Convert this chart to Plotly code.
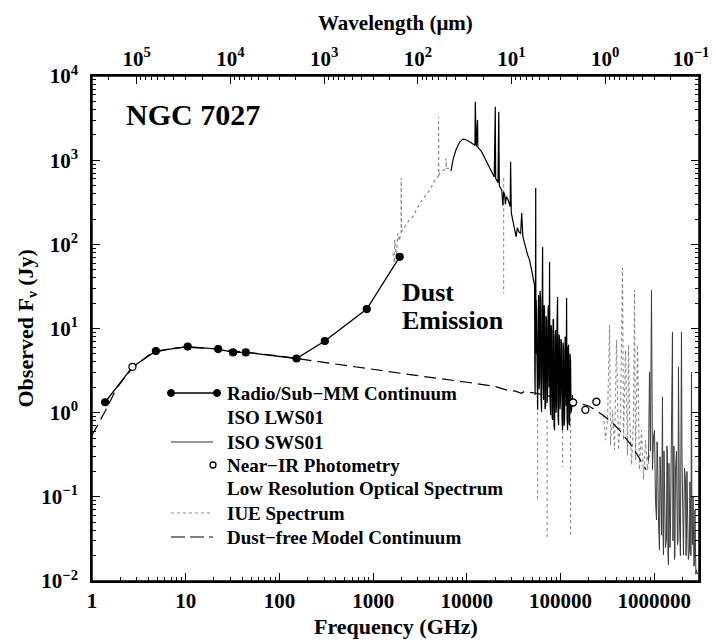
import math
import plotly.graph_objects as go

# ---------------- data (frequency in GHz, flux density in Jy) ----------------
radio_nu = [1.38, 2.7, 4.8, 10.5, 22.2, 32, 43.8, 152, 305, 855, 1920]
radio_f = [1.33, 3.5, 5.4, 6.1, 5.7, 5.2, 5.2, 4.4, 7.1, 17.0, 71.0]
radio_open = [False, True, False, False, False, False, False, False, False, False, False]

model_nu = [1, 1.4, 1.83, 2.7, 4, 5, 7, 10, 20, 30, 50, 100, 150, 300, 1000, 3000,
            10000, 20000, 27000, 33000, 38000, 41000, 55000, 80000, 134000, 200000,
            282000, 360000, 426000, 588000, 818000]
model_f = [0.54, 1.07, 1.95, 3.4, 4.8, 5.3, 5.8, 6.0, 5.75, 5.5, 5.15, 4.7, 4.4, 3.95,
           3.3, 2.75, 2.3, 2.05, 1.85, 1.80, 1.70, 1.78, 1.70, 1.55, 1.35, 1.2,
           0.94, 0.75, 0.62, 0.39, 0.21]

lws_nu = [1630, 1680, 1700, 1760, 1840, 1900, 1990, 1990, 2010, 2160, 2400, 2650, 2900,
          3140, 3500, 4010, 4500, 4980, 4980, 5020, 5130, 5600, 6000, 6000, 6050, 6770]
lws_f = [78, 60, 113, 70, 135, 110, 140, 610, 140, 160, 190, 213, 260,
         305, 360, 442, 560, 650, 3290, 660, 700, 760, 800, 1050, 800, 800]

sws_nu = [6770, 7100, 7600, 8400, 9100, 9600, 10500, 11500, 12200, 12300, 12400, 12600,
          13000, 13100, 14300, 15300, 16200, 17200, 18200, 19600, 20100, 20300, 21500,
          21900, 22200, 22400, 23600, 24200, 24700, 25300, 25800, 26400, 27600, 29000,
          29300, 29500, 29800, 31000, 32300, 33600, 34600, 36000, 37500, 38500, 39600,
          41000, 42300, 44500, 46700, 48600, 50000, 51300,
          52800, 53100, 53500, 53900, 54300, 54600, 55000, 55900, 56900, 57600, 58300,
          59000, 59700, 60400, 61200, 61900, 62700, 63500, 64300, 65100, 65900, 66700,
          67500, 68300, 69200, 70000, 70900, 71800, 72700, 73600, 74500, 75400, 76300,
          77200, 78200, 79200, 80200, 81200, 82200, 83200, 84200, 85200, 86300, 87400,
          88500, 89500, 90600, 91700, 92900, 94000, 95200, 96400, 97600, 98800, 100000,
          101200, 102500, 103800, 105100, 106400, 107700, 109000, 110400, 111700,
          113100, 114500, 115900, 117300, 118800, 120200, 121700, 123200, 124700,
          126200, 127800, 129400, 131000, 134200]
sws_f = [740, 1000, 1300, 1650, 1780, 1760, 1680, 1560, 1500, 4950, 1490, 1440,
         3000, 1420, 1270, 1100, 960, 850, 764, 630, 4300, 610, 540,
         3750, 500, 485, 440, 290, 420, 390, 300, 370, 336, 280,
         960, 260, 236, 190, 148, 123, 158, 140, 134, 236, 123,
         105, 93, 75, 65, 54, 45, 37.7,
         32.9, 3.0, 1.62, 18, 467, 5.0, 21.8, 2.2, 1.08, 14, 25,
         1.9, 2.44, 28, 21.8, 1.5, 1.02, 15, 93, 2.5, 1.41, 19,
         16.6, 1.1, 1.23, 14, 12.6, 1.3, 1.86, 17, 19, 2.0, 61.7,
         1.5, 0.94, 11, 9.6, 0.9, 0.82, 13, 12.6, 0.7, 0.62, 8,
         9.6, 1.0, 1.23, 12, 23.7, 0.9, 0.71, 8.5, 7.3, 1.1, 1.62,
         7.5, 6.37, 0.8, 0.62, 6.8, 5.55, 0.7, 0.82, 8,
         7.3, 1.2, 23.0, 0.9, 0.62, 6.0, 6.37, 0.75, 0.71,
         5.0, 4.23, 1.0, 1.08, 1.62]

# faint dotted drop-outs in the SWS range (None separates the spikes)
swsd_nu = [24700, 24700, None, 56900, 56900, None, 71800, 71800, None,
           105100, 105100, None, 127800, 127800]
swsd_f = [610, 26, None, 1.41, 0.092, None, 0.82, 0.033, None,
          1.41, 0.226, None, 1.41, 0.033]

nir_nu = [136000, 184000, 241000]
nir_f = [1.32, 1.08, 1.35]

opt_nu = [287300, 301800, 317000, 333000, 341300, 358400, 376500, 395400, 415300,
          436300, 458200, 469600, 493200, 518000, 531000, 544000, 571400, 600200,
          615100, 630400, 662200, 695500, 730500, 767300, 805900, 846400, 889000]
opt_f = [0.94, 0.47, 0.82, 11.0, 0.41, 1.08, 0.36, 7.3, 0.36,
         0.94, 52.4, 0.47, 5.55, 0.31, 6.4, 1.08, 0.24, 0.82,
         28.7, 0.27, 6.4, 0.21, 0.62, 0.16, 0.47, 0.21, 0.31]

iue_nu = [850000, 867500, 889000, 910000, 933700, 945000, 956900, 980000, 1.005e6,
          1.030e6, 1.056e6, 1.070e6, 1.082e6, 1.110e6, 1.136e6, 1.150e6, 1.165e6,
          1.195e6, 1.223e6, 1.238e6, 1.253e6, 1.270e6, 1.285e6, 1.315e6, 1.349e6,
          1.365e6, 1.383e6, 1.400e6, 1.417e6, 1.435e6, 1.452e6, 1.470e6, 1.488e6,
          1.525e6, 1.563e6, 1.582e6, 1.602e6, 1.620e6, 1.642e6, 1.660e6, 1.683e6,
          1.725e6, 1.767e6, 1.790e6, 1.811e6, 1.835e6, 1.857e6, 1.900e6, 1.950e6,
          1.975e6, 1.998e6, 2.020e6, 2.048e6, 2.100e6, 2.151e6, 2.180e6, 2.204e6,
          2.230e6, 2.259e6, 2.310e6, 2.373e6, 2.400e6, 2.432e6, 2.460e6, 2.493e6,
          2.520e6, 2.554e6, 2.590e6, 2.618e6, 2.650e6, 2.684e6, 2.715e6, 2.749e6,
          2.780e6, 2.818e6, 2.900e6]
iue_f = [0.30, 0.27, 3.04, 0.35, 28.7, 0.4, 0.21, 0.5, 0.62,
         0.09, 0.053, 0.45, 0.36, 0.05, 0.0234, 0.30, 0.21,
         0.035, 1.54, 0.04, 0.0204, 0.35, 0.159, 0.025, 0.031,
         0.40, 0.27, 0.02, 0.0155, 0.25, 0.121, 0.025, 0.04,
         0.30, 9.1, 0.03, 0.092, 0.40, 0.018, 0.02, 0.208,
         0.35, 0.027, 0.03, 3.5, 0.25, 0.053, 0.02, 9.1,
         0.3, 0.121, 0.025, 0.0204, 0.22, 0.159, 0.02, 0.031,
         0.20, 0.092, 0.018, 0.0234, 0.15, 0.07, 0.02, 3.04,
         0.05, 0.027, 0.10, 0.053, 0.015, 0.018, 0.07, 0.04,
         0.012, 0.0135, 0.012]

freq_ticks = [1, 10, 100, 1000, 10000, 100000, 1000000]
freq_labels = ["1", "10", "100", "1000", "10000", "100000", "1000000"]
wl_ticks_um = [1e5, 1e4, 1e3, 1e2, 1e1, 1, 0.1]
wl_labels = ["10<sup>5</sup>", "10<sup>4</sup>", "10<sup>3</sup>", "10<sup>2</sup>",
             "10<sup>1</sup>", "10<sup>0</sup>", "10<sup>−1</sup>\u00a0\u00a0\u00a0"]
flux_ticks = [1e-2, 1e-1, 1, 10, 100, 1000, 10000]
flux_labels = ["10<sup>−2</sup>", "10<sup>−1</sup>", "10<sup>0</sup>", "10<sup>1</sup>",
               "10<sup>2</sup>", "10<sup>3</sup>", "10<sup>4</sup>"]

legend_items = ["Radio/Sub−MM Continuum", "ISO LWS01", "ISO SWS01", "Near−IR Photometry",
                "Low Resolution Optical Spectrum", "IUE Spectrum", "Dust−free Model Continuum"]

C_UM_GHZ = 2.99792458e5  # lambda[um] * nu[GHz]

# ---------------- figure ----------------
FONT = "Liberation Serif"
PAGE_W, PAGE_H = 716, 642
BODY = 8                      # default page margin around the plot div
W, H = PAGE_W - BODY, PAGE_H - BODY
L, R, T, B = 92, 699, 76, 581  # plot-area edges in window pixels
XMAX = 3.0e6


def px(x):
    return (x - L) / (R - L)


def py(y):
    return (B - y) / (B - T)


fig = go.Figure()

fig.add_trace(go.Scatter(x=lws_nu, y=lws_f, mode="lines",
                         line=dict(color="#8a8a8a", width=1.2, dash="dot"), hoverinfo="skip"))
fig.add_trace(go.Scatter(x=opt_nu, y=opt_f, mode="lines",
                         line=dict(color="#8a8a8a", width=1.1, dash="dot"), hoverinfo="skip"))
fig.add_trace(go.Scatter(x=swsd_nu, y=swsd_f, mode="lines",
                         line=dict(color="#8a8a8a", width=1.1, dash="dot"), hoverinfo="skip"))
fig.add_trace(go.Scatter(x=iue_nu, y=iue_f, mode="lines",
                         line=dict(color="#3a3a3a", width=1.0), hoverinfo="skip"))
fig.add_trace(go.Scatter(x=model_nu, y=model_f, mode="lines",
                         line=dict(color="black", width=1.2, dash="12px,6px"), hoverinfo="skip"))
fig.add_trace(go.Scatter(x=sws_nu, y=sws_f, mode="lines",
                         line=dict(color="black", width=1.2), hoverinfo="skip"))
fig.add_trace(go.Scatter(x=radio_nu, y=radio_f, mode="lines+markers",
                         line=dict(color="black", width=1.3),
                         marker=dict(size=7, color=["white" if o else "black" for o in radio_open],
                                     line=dict(color="black", width=1.2)),
                         hoverinfo="skip"))
fig.add_trace(go.Scatter(x=nir_nu, y=nir_f, mode="markers",
                         marker=dict(size=7, color="white", line=dict(color="black", width=1.4)),
                         hoverinfo="skip"))
# invisible anchor for the wavelength axis and the right-hand flux axis
fig.add_trace(go.Scatter(x=[10], y=[1e-6], xaxis="x2", yaxis="y2", mode="markers",
                         marker=dict(opacity=0), hoverinfo="skip"))

minor_freq = [m * 10 ** k for k in range(0, 7) for m in range(2, 10) if m * 10 ** k < XMAX]
minor_wl = [C_UM_GHZ / (m * 10 ** k) for k in range(-2, 6) for m in range(2, 10)]
minor_wl = [v for v in minor_wl if 1 < v < XMAX]
minor_flux = [m * 10.0 ** k for k in range(-2, 4) for m in range(2, 10)]

tick_font = dict(family=FONT, size=21, color="black", weight="bold")
axis_common = dict(type="log", showgrid=False, zeroline=False, showline=True,
                   linecolor="black", linewidth=1.5, ticks="inside", ticklen=8,
                   tickwidth=1, tickcolor="black", tickfont=tick_font,
                   ticklabeloverflow="allow")
minor_common = dict(tickmode="array", ticks="inside", ticklen=4, tickcolor="black",
                    tickwidth=1, showgrid=False)

fig.update_layout(
    width=W, height=H,
    margin=dict(l=L - BODY, r=PAGE_W - R, t=T - BODY, b=PAGE_H - B, pad=0, autoexpand=False),
    paper_bgcolor="white", plot_bgcolor="white",
    showlegend=False,
    font=dict(family=FONT, color="black"),
    xaxis=dict(**axis_common, range=[0, math.log10(XMAX)], tickmode="array",
               tickvals=freq_ticks, ticktext=freq_labels, anchor="y",
               minor=dict(**minor_common, tickvals=minor_freq)),
    xaxis2=dict(**axis_common, range=[0, math.log10(XMAX)], overlaying="x", side="top",
                anchor="y", tickmode="array",
                tickvals=[C_UM_GHZ / w for w in wl_ticks_um], ticktext=wl_labels,
                minor=dict(**minor_common, tickvals=minor_wl)),
    yaxis=dict(**axis_common, range=[-2, 4], tickmode="array", anchor="x",
               tickvals=flux_ticks, ticktext=flux_labels, ticklabelstandoff=8,
               minor=dict(**minor_common, tickvals=minor_flux)),
    yaxis2=dict(**axis_common, range=[-2, 4], tickmode="array", overlaying="y",
                side="right", anchor="x", tickvals=flux_ticks, showticklabels=False,
                minor=dict(**minor_common, tickvals=minor_flux)),
)

ann = []
ann.append(dict(text="Frequency (GHz)", x=0.5, y=py(626), xref="paper", yref="paper",
                showarrow=False, xanchor="center", yanchor="middle",
                font=dict(family=FONT, size=22, weight="bold")))
ann.append(dict(text="Wavelength (μm)", x=0.5, y=py(23), xref="paper", yref="paper",
                showarrow=False, xanchor="center", yanchor="middle",
                font=dict(family=FONT, size=21, weight="bold")))
ann.append(dict(text="Observed F<sub>ν</sub> (Jy)", x=px(26), y=0.5, xref="paper", yref="paper",
                showarrow=False, xanchor="center", yanchor="middle", textangle=-90,
                font=dict(family=FONT, size=22, weight="bold")))
ann.append(dict(text="NGC 7027", x=px(124), y=py(115), xref="paper", yref="paper",
                showarrow=False, xanchor="left", yanchor="middle",
                font=dict(family=FONT, size=30, weight="bold")))
ann.append(dict(text="Dust", x=px(400), y=py(292), xref="paper", yref="paper",
                showarrow=False, xanchor="left", yanchor="middle",
                font=dict(family=FONT, size=26, weight="bold")))
ann.append(dict(text="Emission", x=px(400), y=py(320), xref="paper", yref="paper",
                showarrow=False, xanchor="left", yanchor="middle",
                font=dict(family=FONT, size=26, weight="bold")))

# hand-drawn legend (as in the original figure)
row_y = [393, 418, 442, 465, 488, 513, 537]
for label, yy in zip(legend_items, row_y):
    ann.append(dict(text=label, x=px(225), y=py(yy), xref="paper", yref="paper",
                    showarrow=False, xanchor="left", yanchor="middle",
                    font=dict(family=FONT, size=19, weight="bold")))

shapes = []
# plot frame
shapes.append(dict(type="rect", xref="paper", yref="paper", x0=0, x1=1, y0=0, y1=1,
                   line=dict(color="black", width=1.5), layer="above"))
# radio sample
shapes.append(dict(type="line", xref="paper", yref="paper", x0=px(171), x1=px(217),
                   y0=py(row_y[0]), y1=py(row_y[0]), line=dict(color="black", width=1.3)))
for xx in (171, 217):
    shapes.append(dict(type="circle", xref="paper", yref="paper", xsizemode="pixel",
                       ysizemode="pixel", xanchor=px(xx), yanchor=py(row_y[0]),
                       x0=-3.5, x1=3.5, y0=-3.5, y1=3.5, fillcolor="black",
                       line=dict(color="black", width=1)))
# SWS sample
shapes.append(dict(type="line", xref="paper", yref="paper", x0=px(171), x1=px(213),
                   y0=py(row_y[2]), y1=py(row_y[2]), line=dict(color="#333333", width=1)))
# near-IR sample
shapes.append(dict(type="circle", xref="paper", yref="paper", xsizemode="pixel",
                   ysizemode="pixel", xanchor=px(213), yanchor=py(row_y[3]),
                   x0=-3, x1=3, y0=-3, y1=3, fillcolor="white",
                   line=dict(color="black", width=1.3)))
# IUE sample
shapes.append(dict(type="line", xref="paper", yref="paper", x0=px(171), x1=px(213),
                   y0=py(row_y[5]), y1=py(row_y[5]),
                   line=dict(color="#8a8a8a", width=1, dash="dot")))
# model sample
shapes.append(dict(type="line", xref="paper", yref="paper", x0=px(171), x1=px(213),
                   y0=py(row_y[6]), y1=py(row_y[6]),
                   line=dict(color="black", width=1.2, dash="14px,5px")))

fig.update_layout(annotations=ann, shapes=shapes)

fig.write_html("out.html")
